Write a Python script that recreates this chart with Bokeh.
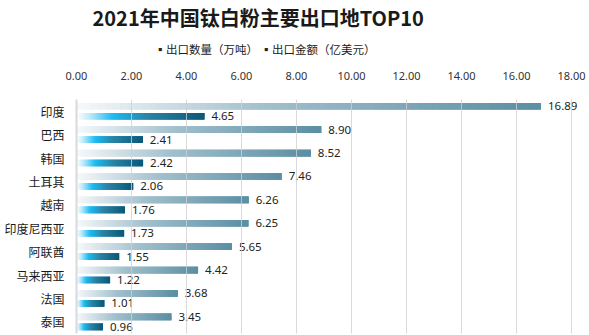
from bokeh.plotting import figure
from bokeh.models import ColumnDataSource, FixedTicker, NumeralTickFormatter, Title
from bokeh.transform import dodge
from bokeh.core.properties import value
from bokeh.embed import file_html
from bokeh.resources import INLINE

title_text = "2021年中国钛白粉主要出口地TOP10"
countries = ["印度", "巴西", "韩国", "土耳其", "越南", "印度尼西亚", "阿联酋", "马来西亚", "法国", "泰国"]
quantity = [16.89, 8.90, 8.52, 7.46, 6.26, 6.25, 5.65, 4.42, 3.68, 3.45]
amount = [4.65, 2.41, 2.42, 2.06, 1.76, 1.73, 1.55, 1.22, 1.01, 0.96]
series_names = ["出口数量（万吨）", "出口金额（亿美元）"]
x_ticks = [0, 2, 4, 6, 8, 10, 12, 14, 16, 18]

CJK = "Noto Sans CJK SC"
NUM = "Noto Sans"

def hex2rgb(h):
    h = h.lstrip("#")
    return tuple(int(h[i:i + 2], 16) for i in (0, 2, 4))

def grad(stops, t):
    for (t0, c0), (t1, c1) in zip(stops[:-1], stops[1:]):
        if t <= t1:
            f = (t - t0) / (t1 - t0) if t1 > t0 else 0
            a, b = hex2rgb(c0), hex2rgb(c1)
            return "#%02x%02x%02x" % tuple(int(round(a[i] + (b[i] - a[i]) * f)) for i in range(3))
    return stops[-1][1]

q_stops = [(0.0, "#f6f9fb"), (0.4, "#a2c0cd"), (1.0, "#5a8ea2")]
a_stops = [(0.0, "#ffffff"), (0.1, "#bfeafb"), (0.28, "#1bbcf3"), (0.55, "#2b84a4"), (1.0, "#0a5878")]

p = figure(width=589, height=335, y_range=list(reversed(countries)), x_range=(0, 18.4),
           x_axis_location="above", output_backend="svg", toolbar_location=None,
           min_border_left=76, min_border_right=7, min_border_top=97, min_border_bottom=2)
p.outline_line_color = None

N = 64
for vals, stops, off in ((quantity, q_stops, 0.21), (amount, a_stops, -0.215)):
    ys, lefts, rights, cols = [], [], [], []
    for c, v in zip(countries, vals):
        for i in range(N):
            ys.append(c)
            lefts.append(v * i / N)
            rights.append(v * min(i + 3, N) / N)
            cols.append(grad(stops, (i + 0.5) / N))
    src = ColumnDataSource(dict(y=ys, left=lefts, right=rights, color=cols))
    p.hbar(y=dodge("y", off, range=p.y_range), left="left", right="right", height=0.285,
           fill_color="color", line_color=None, source=src)
    lsrc = ColumnDataSource(dict(y=countries, x=vals, t=["%.2f" % v for v in vals]))
    p.text(x="x", y=dodge("y", off, range=p.y_range), text="t", source=lsrc, x_offset=7,
           text_font=value(NUM), text_font_size="11.5px", text_color="#222222",
           text_baseline="middle", text_align="left")

p.xaxis.ticker = FixedTicker(ticks=x_ticks)
p.xaxis.formatter = NumeralTickFormatter(format="0.00")
p.xaxis.axis_line_color = None
p.xaxis.major_tick_line_color = None
p.xaxis.minor_tick_line_color = None
p.xaxis.major_label_text_font = NUM
p.xaxis.major_label_text_font_size = "11px"
p.xaxis.major_label_text_color = "#333333"
p.xaxis.major_label_standoff = 14

p.yaxis.axis_line_color = "#d9d9d9"
p.yaxis.axis_line_width = 2
p.yaxis.major_tick_line_color = None
p.yaxis.minor_tick_line_color = None
p.yaxis.major_label_text_font = CJK
p.yaxis.major_label_text_font_size = "12px"
p.yaxis.major_label_text_color = "#1a1a1a"
p.yaxis.major_label_standoff = 6

p.ygrid.grid_line_color = None
p.xgrid.ticker = FixedTicker(ticks=x_ticks)
p.xgrid.grid_line_color = "#d0d0d0"
p.xgrid.grid_line_alpha = 0.8
p.xgrid.level = "annotation"

legend_text = "▪" + series_names[0] + "    ▪" + series_names[1]
p.add_layout(Title(text=legend_text, align="left", offset=78, standoff=19, vertical_align="top",
                   text_font=CJK, text_font_size="11.5px", text_font_style="normal",
                   text_color="#222222"), "above")
p.add_layout(Title(text=title_text, align="left", offset=16, standoff=0, text_font=CJK,
                   text_font_size="20px", text_font_style="bold", text_color="#1a1a1a"), "above")

open("out.html", "w").write(file_html(p, INLINE))
